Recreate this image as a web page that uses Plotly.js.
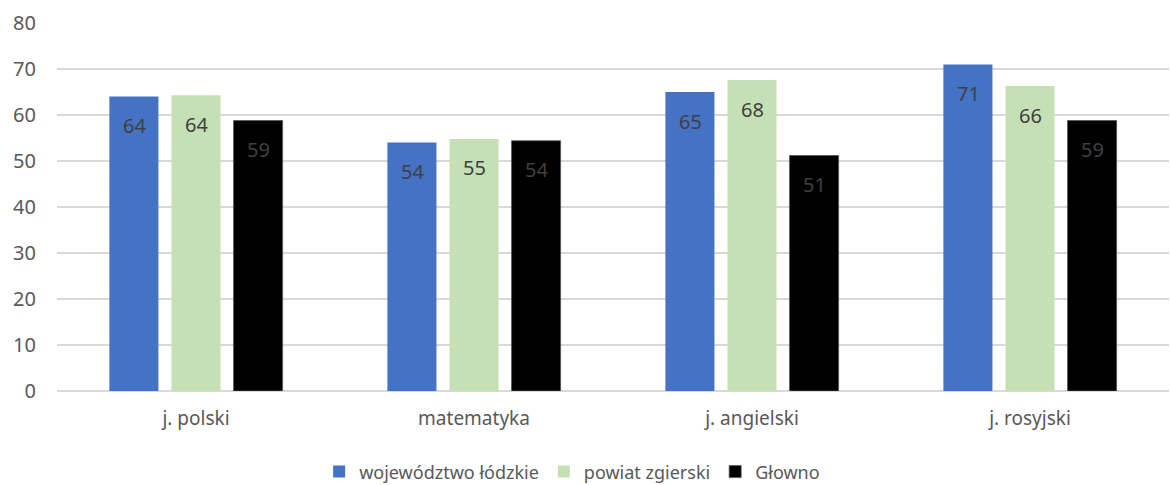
<!DOCTYPE html>
<html>
<head>
<meta charset="utf-8">
<script src="https://cdn.plot.ly/plotly-3.0.1.min.js"></script>
<style>html,body{margin:0;padding:0;background:#fff;}#chart{width:1170px;height:485px;}</style>
</head>
<body>
<div id="chart"></div>
<script>
const categories = ["j. polski", "matematyka", "j. angielski", "j. rosyjski"];
const seriesNames = ["województwo łódzkie", "powiat zgierski", "Głowno"];
const wojewodztwo = [64.0, 54.0, 65.0, 71.0];
const powiat = [64.3, 54.8, 67.6, 66.3];
const glowno = [58.8, 54.4, 51.2, 58.8];
const colors = ["#4472C4", "#C5E0B4", "#000000"];

const font = "'Noto Sans', 'Open Sans', sans-serif";
const values = [wojewodztwo, powiat, glowno];
const traces = values.map((v, i) => ({
  type: "bar",
  name: seriesNames[i],
  x: categories,
  y: v,
  marker: {color: colors[i], line: {color: i === 2 ? "#555" : colors[i], width: i === 2 ? 0.8 : 0}},
  hoverinfo: "none"
}));

// data labels, placed just below each bar's top
const bargap = 0.33, bargroupgap = 0.21;
const annotations = [];
values.forEach((v, i) => {
  v.forEach((d, j) => {
    annotations.push({
      x: categories[j], y: d, xref: "x", yref: "y",
      text: String(Math.round(d)),
      showarrow: false,
      xshift: (i - 1) * 62,
      yshift: -29,
      font: {family: font, size: 20, color: "#404040"}
    });
  });
});

const layout = {
  width: 1170, height: 485,
  margin: {l: 57, r: 1, t: 23, b: 94},
  paper_bgcolor: "#fff", plot_bgcolor: "#fff",
  barmode: "group",
  bargap: bargap,
  bargroupgap: bargroupgap,
  showlegend: true,
  legend: {orientation: "h", x: 0.489, xanchor: "center", xref: "container",
           y: 0.027, yanchor: "middle", yref: "container",
           font: {family: font, size: 18, color: "#595959"}, traceorder: "normal"},
  annotations: annotations,
  xaxis: {
    showgrid: false, zeroline: false, showline: false,
    tickfont: {family: font, size: 19, color: "#595959"},
    ticklabelstandoff: 14
  },
  yaxis: {
    range: [0, 80], dtick: 10, showgrid: true, gridcolor: "#d9d9d9", gridwidth: 1.5,
    zeroline: true, zerolinecolor: "#d9d9d9", zerolinewidth: 1.5, showline: false,
    tickfont: {family: font, size: 20, color: "#595959"},
    ticklabelstandoff: 20
  },
  font: {family: font}
};

Plotly.newPlot("chart", traces, layout, {displayModeBar: false, staticPlot: true});
</script>
</body>
</html>
